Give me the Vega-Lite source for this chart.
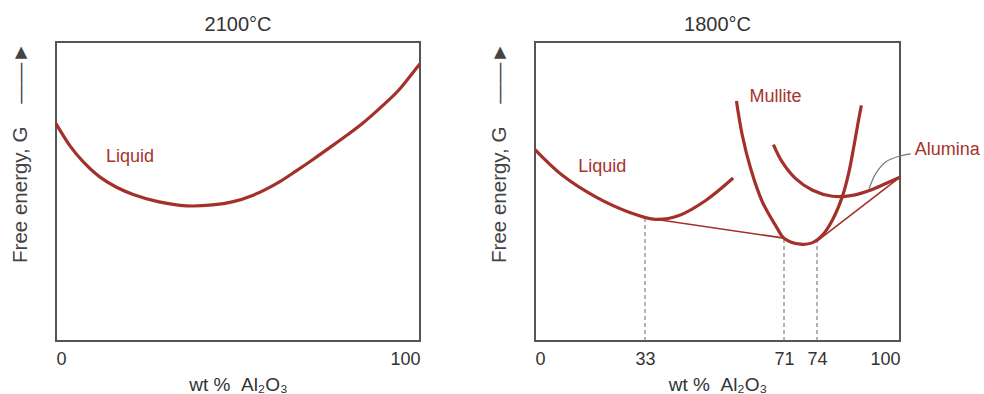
{
  "$schema": "https://vega.github.io/schema/vega-lite/v6.json",
  "padding": {"left": 8, "top": 14, "right": 0, "bottom": 0},
  "background": "white",
  "bounds": "flush",
  "spacing": 115,
  "config": {
    "view": {"stroke": "#555555", "strokeWidth": 2},
    "font": "Liberation Sans",
    "axis": {"grid": false, "ticks": false, "domain": false, "labelFont": "Liberation Sans", "labelFontSize": 18, "labelColor": "#333333", "titleFont": "Liberation Sans", "titleFontSize": 19, "titleFontWeight": "normal", "titleColor": "#333333"},
    "title": {"font": "Liberation Sans", "fontSize": 20, "fontWeight": "normal", "color": "#333333", "offset": 7}
  },
  "datasets": {
    "liqL": [
      {"x": 0, "g": 72.7}, {"x": 4, "g": 65.0}, {"x": 7.5, "g": 59.9}, {"x": 12.1, "g": 54.8},
      {"x": 16.5, "g": 51.5}, {"x": 21.2, "g": 49.0}, {"x": 28, "g": 46.6}, {"x": 35.9, "g": 45.2},
      {"x": 43, "g": 45.5}, {"x": 48.7, "g": 46.6}, {"x": 54, "g": 48.7}, {"x": 57.9, "g": 50.9},
      {"x": 61.5, "g": 53.3}, {"x": 66, "g": 56.9}, {"x": 70.7, "g": 60.8}, {"x": 75, "g": 64.5},
      {"x": 79.9, "g": 68.8}, {"x": 84.5, "g": 73.1}, {"x": 89.0, "g": 77.9}, {"x": 94, "g": 83.7},
      {"x": 98.2, "g": 90.0}, {"x": 100, "g": 92.7}
    ],
    "curvesR": [
      {"curve": "Liquid", "x": 0, "g": 64.0}, {"curve": "Liquid", "x": 8.2, "g": 55.4},
      {"curve": "Liquid", "x": 18.2, "g": 48.2}, {"curve": "Liquid", "x": 28.2, "g": 43.1},
      {"curve": "Liquid", "x": 35.9, "g": 40.7}, {"curve": "Liquid", "x": 42.3, "g": 42.0},
      {"curve": "Liquid", "x": 49.6, "g": 47.0}, {"curve": "Liquid", "x": 57.1, "g": 54.5},
      {"curve": "Mullite", "x": 58.0, "g": 80.3}, {"curve": "Mullite", "x": 59.6, "g": 68.8},
      {"curve": "Mullite", "x": 61.9, "g": 57.6}, {"curve": "Mullite", "x": 65.1, "g": 46.5},
      {"curve": "Mullite", "x": 69.2, "g": 37.6}, {"curve": "Mullite", "x": 71.0, "g": 34.4},
      {"curve": "Mullite", "x": 72.5, "g": 32.4}, {"curve": "Mullite", "x": 73.6, "g": 32.9},
      {"curve": "Mullite", "x": 75.7, "g": 35.4}, {"curve": "Mullite", "x": 78.8, "g": 40.4},
      {"curve": "Mullite", "x": 81.9, "g": 48.2}, {"curve": "Mullite", "x": 84.0, "g": 56.5},
      {"curve": "Mullite", "x": 85.6, "g": 65.4}, {"curve": "Mullite", "x": 86.9, "g": 73.2},
      {"curve": "Mullite", "x": 87.9, "g": 78.8},
      {"curve": "Alumina", "x": 68.1, "g": 65.7}, {"curve": "Alumina", "x": 70.5, "g": 59.9},
      {"curve": "Alumina", "x": 72.06, "g": 54.3}, {"curve": "Alumina", "x": 73.6, "g": 50.4},
      {"curve": "Alumina", "x": 78.8, "g": 48.4}, {"curve": "Alumina", "x": 85.1, "g": 48.7},
      {"curve": "Alumina", "x": 91.3, "g": 50.7}, {"curve": "Alumina", "x": 96.6, "g": 53.2},
      {"curve": "Alumina", "x": 100, "g": 54.8}
    ],
    "tangents": [
      {"pair": "Liquid-Mullite", "x": 33, "g": 41.2}, {"pair": "Liquid-Mullite", "x": 71, "g": 34.4},
      {"pair": "Mullite-Alumina", "x": 74, "g": 33.4}, {"pair": "Mullite-Alumina", "x": 100, "g": 54.8}
    ],
    "ties": [
      {"x": 33, "g": 41.2}, {"x": 71, "g": 34.4}, {"x": 74, "g": 33.4}
    ],
    "leader": [
      {"x": 90.3, "g": 50.9}, {"x": 92.4, "g": 56.0}, {"x": 95.5, "g": 59.9}, {"x": 99.7, "g": 61.8}, {"x": 103.4, "g": 62.6}
    ],
    "labelsL": [{"x": 20.3, "g": 61.5, "text": "Liquid"}],
    "labelsR": [
      {"x": 20.2, "g": 58.2, "text": "Liquid"},
      {"x": 68.7, "g": 81.6, "text": "Mullite"},
      {"x": 114.8, "g": 63.8, "text": "Alumina"}
    ]
  },
  "hconcat": [
    {
      "width": 364,
      "height": 299,
      "title": "2100°C",
      "layer": [
        {
          "data": {"name": "liqL"},
          "mark": {"type": "line", "color": "#a3302b", "strokeWidth": 3.2, "interpolate": "catmull-rom"},
          "encoding": {
            "x": {"field": "x", "type": "quantitative", "scale": {"domain": [0, 100], "nice": false},
                  "axis": {"values": [0, 100], "labelPadding": 9, "title": "wt %\u00a0\u00a0Al₂O₃", "titlePadding": 7}},
            "y": {"field": "g", "type": "quantitative", "scale": {"domain": [0, 100], "nice": false},
                  "axis": {"labels": false, "title": "Free energy, G\u00a0\u00a0\u00a0\u00a0——►", "titleFontSize": 20.5, "titlePadding": 26, "titleAnchor": "end", "titleColor": "#444444"}}
          }
        },
        {
          "data": {"name": "labelsL"},
          "mark": {"type": "text", "color": "#a8322d", "fontSize": 18, "font": "Liberation Sans"},
          "encoding": {
            "x": {"field": "x", "type": "quantitative"},
            "y": {"field": "g", "type": "quantitative"},
            "text": {"field": "text"}
          }
        }
      ]
    },
    {
      "width": 365,
      "height": 299,
      "title": "1800°C",
      "encoding": {
        "x": {"field": "x", "type": "quantitative",
              "scale": {"domain": [0, 33, 71, 74, 100], "range": [0, 110, 249, 282, 365], "nice": false, "zero": false},
              "axis": {"values": [0, 33, 71, 74, 100], "labelPadding": 9, "title": "wt %\u00a0\u00a0Al₂O₃", "titlePadding": 7}},
        "y": {"field": "g", "type": "quantitative", "scale": {"domain": [0, 100], "nice": false},
              "axis": {"labels": false, "title": "Free energy, G\u00a0\u00a0\u00a0\u00a0——►", "titleFontSize": 20.5, "titlePadding": 26, "titleAnchor": "end", "titleColor": "#444444"}}
      },
      "layer": [
        {
          "data": {"name": "ties"},
          "mark": {"type": "rule", "color": "#666666", "strokeWidth": 1, "strokeDash": [4, 3]},
          "encoding": {"y": {"datum": 0, "type": "quantitative"}, "y2": {"field": "g"}}
        },
        {
          "data": {"name": "tangents"},
          "mark": {"type": "line", "color": "#a3302b", "strokeWidth": 1.6},
          "encoding": {"detail": {"field": "pair"}}
        },
        {
          "data": {"name": "curvesR"},
          "mark": {"type": "line", "color": "#a3302b", "strokeWidth": 3.2, "interpolate": "catmull-rom"},
          "encoding": {"detail": {"field": "curve"}}
        },
        {
          "data": {"name": "leader"},
          "mark": {"type": "line", "color": "#777777", "strokeWidth": 1.2, "interpolate": "catmull-rom", "clip": false},
          "encoding": {}
        },
        {
          "data": {"name": "labelsR"},
          "mark": {"type": "text", "color": "#a8322d", "fontSize": 18, "font": "Liberation Sans"},
          "encoding": {"text": {"field": "text"}}
        }
      ]
    }
  ]
}
